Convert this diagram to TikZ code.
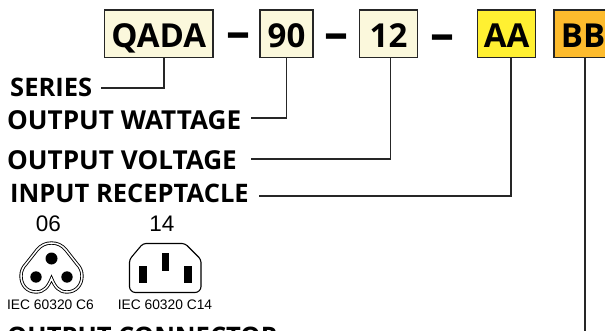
\documentclass[tikz,border=0pt]{standalone}
\usepackage{fontspec}
\setmainfont{Open Sans}
\newfontfamily\iecfont{Liberation Sans}
\usetikzlibrary{calc}
\definecolor{codecream}{RGB}{251,248,220}
\definecolor{codeyellow}{RGB}{255,240,50}
\definecolor{codeorange}{RGB}{253,187,45}
\tikzset{
  codebox/.style={draw=black!85, line width=1.3pt, inner sep=0pt, minimum height=47.5pt, text height=27pt, text depth=0pt, font=\fontsize{33}{33}\selectfont\bfseries, text=black},
  sepdash/.style={font=\fontsize{48}{48}\selectfont\bfseries, inner sep=0pt},
  seriesname/.style={anchor=base west, inner sep=0pt, font=\fontsize{25.5}{25.5}\selectfont\bfseries},
  outname/.style={seriesname, font=\fontsize{26.1}{26.1}\selectfont\bfseries},
  leader/.style={draw=black!85, line width=1.15pt},
  iecnum/.style={anchor=base, inner sep=0pt, font=\iecfont\fontsize{22.5}{22.5}\selectfont},
  ieclabel/.style={anchor=base, inner sep=0pt, font=\iecfont\fontsize{13.8}{13.8}\selectfont},
  socket/.style={draw=black, line width=1.1pt},
}
\begin{document}
\begin{tikzpicture}[x=1pt,y=-1pt]
  \clip (0,0) rectangle (605,331);
  \node[codebox, fill=codecream, minimum width=108.5pt] (qada) at (158.75,33.75) {QADA};
  \node[codebox, fill=codecream, minimum width=53pt] (wattage) at (286.5,33.75) {90};
  \node[codebox, fill=codecream, minimum width=58pt] (voltage) at (388.5,33.75) {12};
  \node[codebox, fill=codeyellow, minimum width=58pt] (receptacle) at (506.7,33.75) {AA};
  \node[codebox, fill=codeorange, minimum width=58pt] (connector) at (583,33.75) {BB};
  \node[sepdash] (dasha) at (238.5,41) {–};
  \node[sepdash] (dashb) at (336,42) {–};
  \node[sepdash] (dashc) at (442.5,43) {–};

  \node[seriesname] (series) at (10,97) {SERIES};
  \node[outname] (wattname) at (7,130) {OUTPUT WATTAGE};
  \node[outname] (voltname) at (7,170) {OUTPUT VOLTAGE};
  \node[seriesname] (recname) at (10,203) {INPUT RECEPTACLE};
  \node[seriesname] (conname) at (7,345) {OUTPUT CONNECTOR};

  \coordinate (seriesend) at (101,88);
  \coordinate (wattend) at (251,118);
  \coordinate (voltend) at (251,159);
  \coordinate (recend) at (259,196);
  \coordinate (conend) at (585,336);
  \draw[leader] (qada.south -| 164,0) |- (seriesend);
  \draw[leader] (wattage.south) |- (wattend);
  \draw[leader] (voltage.south -| 390.5,0) |- (voltend);
  \draw[leader] (receptacle.south -| 511,0) |- (recend);
  \draw[leader] (connector.south -| 585,0) -- (conend);

  \node[iecnum] (numsix) at (48.5,232) {06};
  \node[iecnum] (numfourteen) at (162,232) {14};
  \node[ieclabel] (iecsix) at (50.5,309) {IEC 60320 C6};
  \node[ieclabel] (iecfourteen) at (165,309) {IEC 60320 C14};

  \draw[line width=0.9pt, double=white, double distance=1.5pt]
    (51.5,278.5) .. controls (48,287) and (44,292) .. (36,292)
    .. controls (27,292) and (21,285) .. (21,276)
    .. controls (21,271) and (23,267) .. (26,264)
    -- (37,250)
    .. controls (41,245) and (46,243) .. (51.5,243)
    .. controls (57,243) and (62,245) .. (66,250)
    -- (77,264)
    .. controls (80,267) and (82,271) .. (82,276)
    .. controls (82,285) and (76,292) .. (67,292)
    .. controls (59,292) and (55,287) .. cycle;
  \fill (51.5,258.5) circle (6);
  \fill (36,277) circle (5.7);
  \fill (67,277) circle (5.7);

  \draw[socket, rounded corners=3pt] (165,243.5) -- (185,243.5) -- (201,259.5) [rounded corners=6pt] -- (201,292.5) -- (129.5,292.5) [rounded corners=3pt] -- (129.5,259.5) -- (143,243.5) -- cycle;
  \fill (161.5,252.7) rectangle (169,270.7);
  \fill (138.5,265.7) rectangle (146.7,283);
  \fill (183.7,265.7) rectangle (192,283);
\end{tikzpicture}
\end{document}
